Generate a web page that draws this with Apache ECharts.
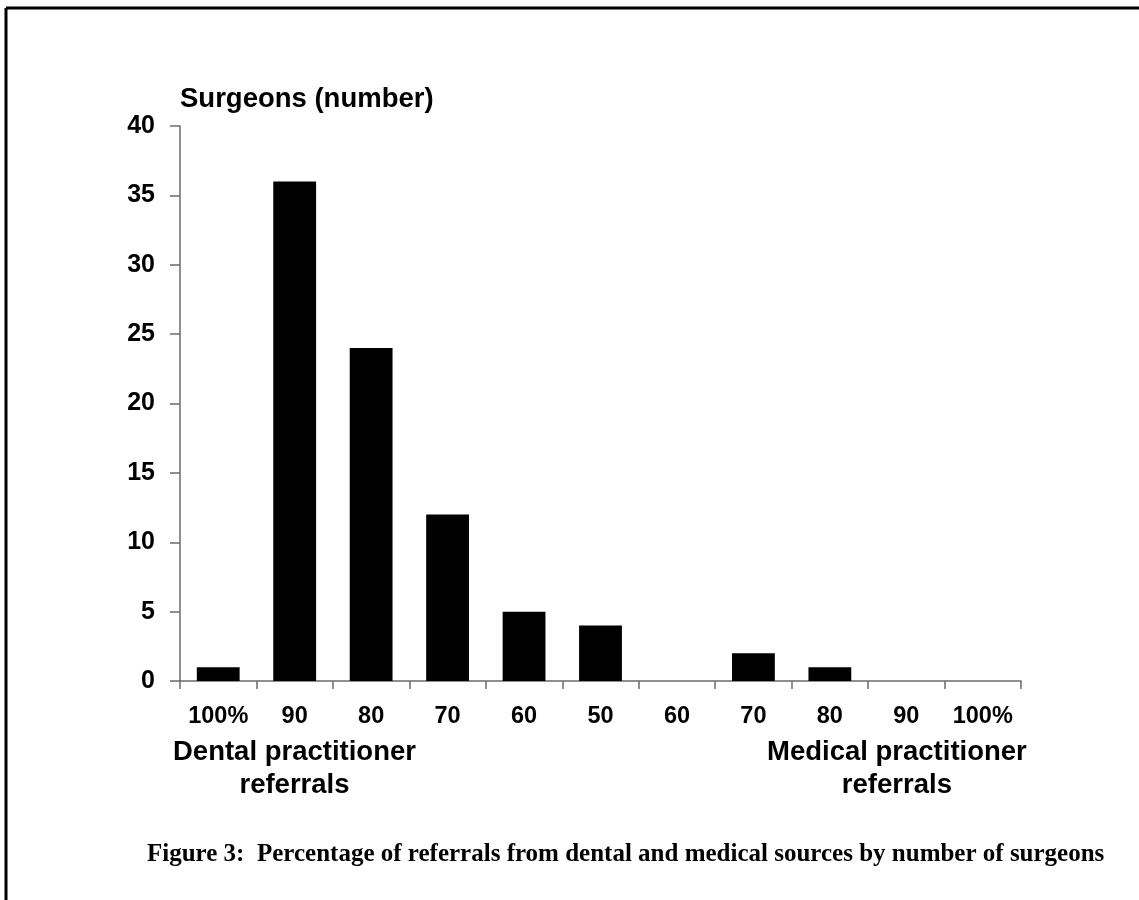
<!DOCTYPE html>
<html>
<head>
<meta charset="utf-8">
<script src="https://cdn.jsdelivr.net/npm/echarts@6/dist/echarts.min.js"></script>
<style>
    html, body { margin: 0; padding: 0; background: #fff; }
    #chart_content { width: 1139px; height: 900px; }
</style>
</head>
<body>
<div id="chart_content"></div>
<script>
// referral share buckets, dental side then medical side
var categories = ["100%", "90", "80", "70", "60", "50", "60", "70", "80", "90", "100%"];
var surgeons = [1, 36, 24, 12, 5, 4, 0, 2, 1, 0, 0];
var yTicks = [0, 5, 10, 15, 20, 25, 30, 35, 40];

var axisColor = '#6b6b6b';
var sansBold = { fontFamily: 'Liberation Sans, Arial, sans-serif', fontWeight: 'bold', color: '#000' };

var chart = echarts.init(document.getElementById("chart_content"));
var option = {
    animation: false,
    grid: {
        left: 180,
        right: 118,
        top: 126,
        bottom: 219,
        containLabel: false
    },
    xAxis: {
        type: 'category',
        data: categories,
        boundaryGap: true,
        axisLine: { lineStyle: { color: axisColor, width: 1.5 } },
        axisTick: { show: true, length: 8, lineStyle: { color: axisColor, width: 1.5 } },
        axisLabel: { ...sansBold, fontSize: 23.5, margin: 24, interval: 0 },
        splitLine: { show: false }
    },
    yAxis: {
        type: 'value',
        min: yTicks[0],
        max: yTicks[yTicks.length - 1],
        interval: 5,
        name: 'Surgeons (number)',
        nameLocation: 'end',
        nameGap: 13,
        nameTextStyle: { ...sansBold, fontSize: 27.5, align: 'left' },
        axisLine: { show: true, lineStyle: { color: axisColor, width: 1.5 } },
        axisTick: { show: true, length: 10, lineStyle: { color: axisColor, width: 1.5 } },
        axisLabel: { ...sansBold, fontSize: 25, margin: 25 },
        splitLine: { show: false }
    },
    series: [{
        name: 'Surgeons',
        type: 'bar',
        data: surgeons,
        barCategoryGap: '44%',
        itemStyle: { color: '#000' }
    }],
    graphic: [
        { type: 'line', shape: { x1: 6, y1: 8, x2: 1139, y2: 8 }, style: { stroke: '#000', lineWidth: 3 } },
        { type: 'line', shape: { x1: 6, y1: 8, x2: 6, y2: 900 }, style: { stroke: '#000', lineWidth: 3 } },
        {
            type: 'text', left: 173, top: 736,
            style: {
                text: 'Dental practitioner\nreferrals',
                font: 'bold 27.5px "Liberation Sans", Arial, sans-serif',
                fill: '#000', textAlign: 'center', lineHeight: 33
            }
        },
        {
            type: 'text', left: 767, top: 736,
            style: {
                text: 'Medical practitioner\nreferrals',
                font: 'bold 27.5px "Liberation Sans", Arial, sans-serif',
                fill: '#000', textAlign: 'center', lineHeight: 33
            }
        },
        {
            type: 'text', left: 147, top: 842,
            style: {
                text: 'Figure 3:',
                font: 'bold 25px "Liberation Serif", serif',
                fill: '#000'
            }
        },
        {
            type: 'text', left: 257, top: 842,
            style: {
                text: 'Percentage of referrals from dental and medical sources by number of surgeons',
                font: 'bold 25px "Liberation Serif", serif',
                fill: '#000'
            }
        }
    ]
};
chart.setOption(option, true);
window.onresize = function(){
    chart.resize();
}
</script>
</body>
</html>
